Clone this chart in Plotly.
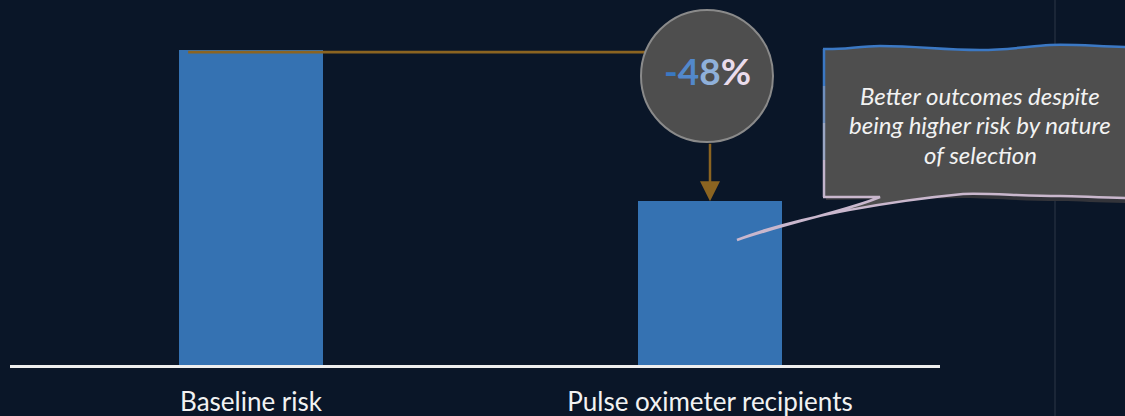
import plotly.graph_objects as go

# ---- data ----
categories = ["Baseline risk", "Pulse oximeter recipients"]
values = [100, 52]
change_label = ["-", "4", "8", "%"]
change_colors = ["#3a78c2", "#5288cb", "#8fb0da", "#eadcec"]
callout_lines = ["Better outcomes despite", "being higher risk by nature", "of selection"]

# ---- layout constants (pixels) ----
W, H = 1125, 416
L, R, T, B = 10, 185, 0, 51
PW, PH = W - L - R, H - T - B
BG = "#0a1628"
BAR = "#3572b2"
GOLD = "#8b6421"


def px(x):
    return (x - L) / PW


def py(y):
    return (H - B - y) / PH


def path(cmds):
    out = []
    for c in cmds:
        if isinstance(c, str):
            out.append(c)
        else:
            out.append(f"{px(c[0]):.5f},{py(c[1]):.5f}")
    return " ".join(out)


bar_w = 144 / 459

fig = go.Figure(go.Bar(x=categories, y=values, marker_color=BAR, marker_line_width=0,
                       width=bar_w, hoverinfo="skip"))

shapes = []
# faint divider line at right
shapes.append(dict(type="line", xref="paper", yref="paper", x0=px(1055), x1=px(1055),
                   y0=py(0), y1=py(H), line=dict(color="#2c3646", width=1), layer="below"))
# connector from baseline bar top
shapes.append(dict(type="line", xref="x", yref="y", x0=-bar_w / 2 + 0.02, x1=1,
                   y0=values[0] - 0.7, y1=values[0] - 0.7, line=dict(color=GOLD, width=2.7)))
# circle
shapes.append(dict(type="circle", xref="paper", yref="paper", x0=px(641), x1=px(773),
                   y0=py(142), y1=py(10), fillcolor="#4e4e4e", line=dict(color="#8a8a8a", width=2)))

# callout shadow
shadow = path(["M", (826, 52), "L", (1130, 52), "L", (1130, 203), "C", (1100, 203), (1080, 201), (1060, 201),
               "C", (1020, 201), (990, 198), (963, 198), "L", (826, 200), "Z"])
shapes.append(dict(type="path", xref="paper", yref="paper", path=shadow, fillcolor="#33343a",
                   line=dict(width=0)))
# callout body
body = path(["M", (823, 49),
             "C", (840, 50), (860, 46), (880, 46),
             "C", (920, 46), (940, 50), (980, 50),
             "C", (1010, 50), (1030, 46), (1050, 45),
             "C", (1080, 44), (1100, 47), (1130, 47),
             "L", (1130, 198),
             "C", (1100, 198), (1080, 196), (1060, 196),
             "C", (1020, 196), (990, 193), (963, 194),
             "C", (900, 200), (800, 215), (737, 240),
             "C", (790, 222), (850, 210), (880, 197),
             "L", (823, 197),
             "C", (825, 160), (822, 120), (824, 90),
             "C", (825, 70), (823, 60), (823, 49), "Z"])
shapes.append(dict(type="path", xref="paper", yref="paper", path=body, fillcolor="#4e4e4e",
                   line=dict(width=0)))
# top edge (blue)
top = path(["M", (823, 49),
            "C", (840, 50), (860, 46), (880, 46),
            "C", (920, 46), (940, 50), (980, 50),
            "C", (1010, 50), (1030, 46), (1050, 45),
            "C", (1080, 44), (1100, 47), (1130, 47)])
shapes.append(dict(type="path", xref="paper", yref="paper", path=top,
                   line=dict(color="#3b78c4", width=2.5)))
# left edge segments (blue -> lavender)
left_cols = ["#3b78c4", "#6f8fbe", "#9aa6c4", "#c2b4cc"]
ys = [49, 86, 123, 160, 197]
for i, c in enumerate(left_cols):
    shapes.append(dict(type="line", xref="paper", yref="paper", x0=px(824), x1=px(824),
                       y0=py(ys[i]), y1=py(ys[i + 1]), line=dict(color=c, width=2.5)))
# bottom edge + tail (lavender)
bottom = path(["M", (1130, 198),
               "C", (1100, 198), (1080, 196), (1060, 196),
               "C", (1020, 196), (990, 193), (963, 194),
               "C", (900, 200), (800, 215), (737, 240),
               "C", (790, 222), (850, 210), (880, 197),
               "L", (823, 197)])
shapes.append(dict(type="path", xref="paper", yref="paper", path=bottom,
                   line=dict(color="#c9b7cd", width=2.5)))

annotations = []
# arrow into second bar
annotations.append(dict(x=categories[1], y=values[1], xref="x", yref="y", text="", showarrow=True,
                        ax=0, ay=-59, arrowhead=2, arrowsize=1.6, arrowwidth=2.5,
                        arrowcolor=GOLD, standoff=0))
# change label
txt = "".join(f"<span style='color:{c}'>{ch}</span>" for ch, c in zip(change_label, change_colors))
annotations.append(dict(x=px(707), y=py(71), xref="paper", yref="paper", text=f"<b>{txt}</b>",
                        showarrow=False, font=dict(family="Lato", size=37, color="#ffffff"),
                        xanchor="center", yanchor="middle"))
# callout text
for i, line in enumerate(callout_lines):
    annotations.append(dict(x=px(980), y=py(95 + i * 29.5), xref="paper", yref="paper", text=line,
                            showarrow=False, xanchor="center", yanchor="middle",
                            font=dict(family="Lato", size=24, color="#f2f2f2", style="italic")))

fig.update_layout(
    width=W, height=H,
    margin=dict(l=L, r=R, t=T, b=B, pad=0),
    paper_bgcolor=BG, plot_bgcolor=BG,
    showlegend=False,
    bargap=0,
    hovermode=False,
    shapes=shapes,
    annotations=annotations,
    xaxis=dict(range=[-241 / 459, 689 / 459], showgrid=False, zeroline=False,
               showline=True, linecolor="#eeeeee", linewidth=2.5, ticks="",
               ticklabelstandoff=12,
               tickfont=dict(family="Lato", size=26, color="#f2f2f2"), fixedrange=True),
    yaxis=dict(range=[0, PH / 3.15], showgrid=False, zeroline=False, showticklabels=False,
               showline=False, fixedrange=True),
)

fig.write_html("out.html", config={"displayModeBar": False},
               post_script="document.body.style.margin='0';document.body.style.background='" + BG + "';")
